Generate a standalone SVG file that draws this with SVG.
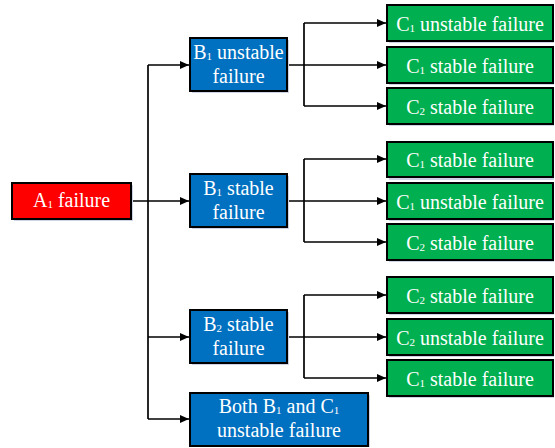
<svg xmlns="http://www.w3.org/2000/svg" width="555" height="448" viewBox="0 0 555 448">
<style>
.box{stroke:#000;stroke-width:2}
.sh{fill:#cfd3e6}
.red{fill:#FF0000}
.blue{fill:#0070C0}
.green{fill:#00B050}
text{font-family:"Liberation Serif","Times New Roman",serif;font-size:20px;fill:#fff;text-anchor:middle}
.s{font-size:11px}
.c{fill:none;stroke:#000;stroke-width:1.7}
</style>
<defs>
<marker id="ah" markerUnits="userSpaceOnUse" markerWidth="9" markerHeight="8" refX="9" refY="4" orient="auto">
<path d="M0,0 L9,4 L0,8 z" fill="#000"/>
</marker>
</defs>
<rect width="555" height="448" fill="#fff"/>
<g id="connectors">
<path class="c" d="M131,201 H189" marker-end="url(#ah)"/>
<path class="c" d="M148,65 V419"/>
<path class="c" d="M148,65 H189" marker-end="url(#ah)"/>
<path class="c" d="M148,337 H189" marker-end="url(#ah)"/>
<path class="c" d="M148,419 H189" marker-end="url(#ah)"/>
<path class="c" d="M287,65 H386" marker-end="url(#ah)"/>
<path class="c" d="M304,23 V106"/>
<path class="c" d="M304,23 H386" marker-end="url(#ah)"/>
<path class="c" d="M304,106 H386" marker-end="url(#ah)"/>
<path class="c" d="M287,201 H386" marker-end="url(#ah)"/>
<path class="c" d="M304,159 V242"/>
<path class="c" d="M304,159 H386" marker-end="url(#ah)"/>
<path class="c" d="M304,242 H386" marker-end="url(#ah)"/>
<path class="c" d="M287,337 H386" marker-end="url(#ah)"/>
<path class="c" d="M304,295 V378"/>
<path class="c" d="M304,295 H386" marker-end="url(#ah)"/>
<path class="c" d="M304,378 H386" marker-end="url(#ah)"/>
</g>
<g id="A1">
<rect class="sh" x="14" y="185" width="119" height="36"/>
<rect class="box red" x="12" y="183" width="119" height="36"/>
<text x="71.5" y="207">A<tspan class="s" dy="1">1</tspan><tspan dy="-1"> failure</tspan></text>
</g>
<g id="B1u">
<rect class="sh" x="192" y="40" width="97" height="53"/>
<rect class="box blue" x="190" y="38" width="97" height="53"/>
<text x="238.5" y="59">B<tspan class="s" dy="1">1</tspan><tspan dy="-1"> unstable</tspan></text>
<text x="238.5" y="83">failure</text>
</g>
<g id="B1s">
<rect class="sh" x="192" y="176" width="97" height="53"/>
<rect class="box blue" x="190" y="174" width="97" height="53"/>
<text x="238.5" y="195">B<tspan class="s" dy="1">1</tspan><tspan dy="-1"> stable</tspan></text>
<text x="238.5" y="219">failure</text>
</g>
<g id="B2s">
<rect class="sh" x="192" y="312" width="97" height="53"/>
<rect class="box blue" x="190" y="310" width="97" height="53"/>
<text x="238.5" y="331">B<tspan class="s" dy="1">2</tspan><tspan dy="-1"> stable</tspan></text>
<text x="238.5" y="355">failure</text>
</g>
<g id="Both">
<rect class="sh" x="192" y="395" width="178" height="52"/>
<rect class="box blue" x="190" y="393" width="178" height="53"/>
<text x="279" y="413">Both B<tspan class="s" dy="1">1</tspan><tspan dy="-1"> and C</tspan><tspan class="s" dy="1">1</tspan></text>
<text x="279" y="437">unstable failure</text>
</g>
<g id="C1">
<rect class="sh" x="389" y="7" width="165" height="36"/>
<rect class="box green" x="387" y="5" width="166" height="36"/>
<text x="470" y="30.5">C<tspan class="s" dy="1">1</tspan><tspan dy="-1"> unstable failure</tspan></text>
</g>
<g id="C2">
<rect class="sh" x="389" y="49" width="165" height="36"/>
<rect class="box green" x="387" y="47" width="166" height="36"/>
<text x="470" y="72.5">C<tspan class="s" dy="1">1</tspan><tspan dy="-1"> stable failure</tspan></text>
</g>
<g id="C3">
<rect class="sh" x="389" y="90" width="165" height="36"/>
<rect class="box green" x="387" y="88" width="166" height="36"/>
<text x="470" y="113.5">C<tspan class="s" dy="1">2</tspan><tspan dy="-1"> stable failure</tspan></text>
</g>
<g id="C4">
<rect class="sh" x="389" y="144" width="165" height="36"/>
<rect class="box green" x="387" y="142" width="166" height="35"/>
<text x="470" y="167">C<tspan class="s" dy="1">1</tspan><tspan dy="-1"> stable failure</tspan></text>
</g>
<g id="C5">
<rect class="sh" x="389" y="185" width="165" height="36"/>
<rect class="box green" x="387" y="183" width="166" height="36"/>
<text x="470" y="208.5">C<tspan class="s" dy="1">1</tspan><tspan dy="-1"> unstable failure</tspan></text>
</g>
<g id="C6">
<rect class="sh" x="389" y="226" width="165" height="36"/>
<rect class="box green" x="387" y="224" width="166" height="36"/>
<text x="470" y="249.5">C<tspan class="s" dy="1">2</tspan><tspan dy="-1"> stable failure</tspan></text>
</g>
<g id="C7">
<rect class="sh" x="389" y="279" width="165" height="36"/>
<rect class="box green" x="387" y="277" width="166" height="36"/>
<text x="470" y="302.5">C<tspan class="s" dy="1">2</tspan><tspan dy="-1"> stable failure</tspan></text>
</g>
<g id="C8">
<rect class="sh" x="389" y="321" width="165" height="36"/>
<rect class="box green" x="387" y="319" width="166" height="36"/>
<text x="470" y="344.5">C<tspan class="s" dy="1">2</tspan><tspan dy="-1"> unstable failure</tspan></text>
</g>
<g id="C9">
<rect class="sh" x="389" y="362" width="165" height="36"/>
<rect class="box green" x="387" y="360" width="166" height="36"/>
<text x="470" y="385.5">C<tspan class="s" dy="1">1</tspan><tspan dy="-1"> stable failure</tspan></text>
</g>
</svg>
